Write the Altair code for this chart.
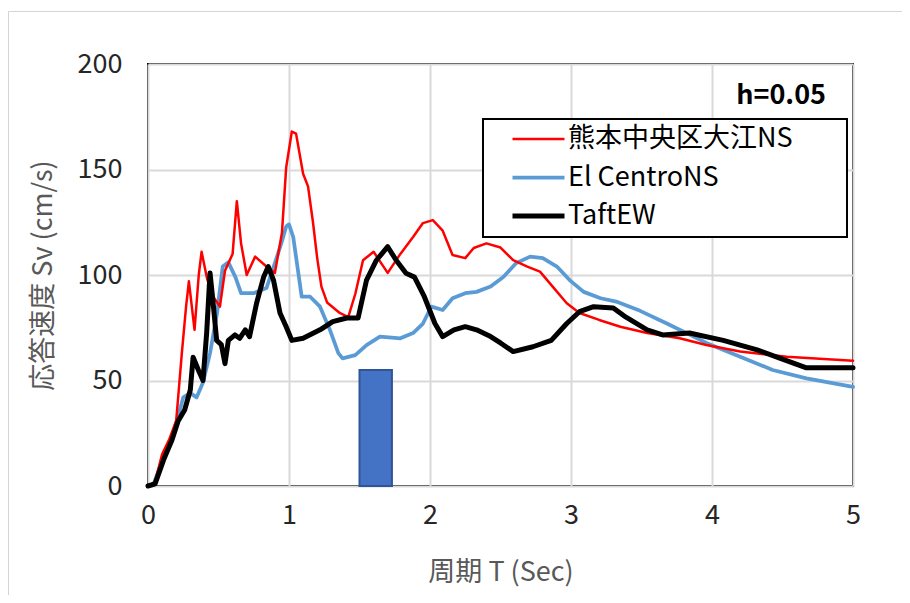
import altair as alt
import pandas as pd

FONT = "Noto Sans CJK JP"

series_names = ["熊本中央区大江NS", "El CentroNS", "TaftEW"]
series_colors = ["#FF0000", "#5B9BD5", "#000000"]
series_widths = [2.5, 5.0, 5.0]

x_ticks = [0, 1, 2, 3, 4, 5]
y_ticks = [0, 50, 100, 150, 200]

red_T = [0, 0.05, 0.1, 0.15, 0.2, 0.24, 0.27, 0.29, 0.33, 0.36, 0.38, 0.42, 0.46, 0.51, 0.546,
         0.6, 0.63, 0.66, 0.7, 0.76, 0.84, 0.9, 0.95, 0.98, 1.02, 1.05, 1.1, 1.135, 1.17, 1.2,
         1.23, 1.27, 1.36, 1.42, 1.47, 1.525, 1.6, 1.65, 1.7, 1.79, 1.88, 1.95, 2.02, 2.09, 2.16,
         2.25, 2.31, 2.4, 2.5, 2.59, 2.69, 2.78, 2.87, 2.97, 3.06, 3.2, 3.35, 3.54, 3.77, 3.96,
         4.2, 4.53, 5.0]
red_V = [0, 2, 15, 22, 31, 63, 85, 97, 74, 100, 111, 98, 90, 85, 102,
         110, 135, 115, 100, 108.7, 104, 101, 120, 151, 168, 167, 148, 142, 125, 108,
         94.5, 87, 82, 80, 91, 107, 111, 106, 101, 110, 118, 124.6, 126, 121, 109.5,
         108, 112.8, 115, 113, 107, 104, 101.6, 94.5, 86.6, 82, 78.7, 75.5, 72.5, 70, 66.8,
         63.7, 61.3, 59.4]

blue_T = [0, 0.04, 0.085, 0.13, 0.18, 0.25, 0.3, 0.345, 0.39, 0.44, 0.49, 0.53, 0.57, 0.62,
          0.66, 0.75, 0.84, 0.9, 0.95, 0.98, 1.0, 1.03, 1.09, 1.15, 1.22, 1.29, 1.35, 1.38,
          1.47, 1.55, 1.645, 1.79, 1.88, 1.95, 2.01, 2.09, 2.16, 2.25, 2.33, 2.43, 2.52, 2.61,
          2.71, 2.8, 2.9, 2.99, 3.09, 3.21, 3.32, 3.49, 3.68, 3.96, 4.2, 4.43, 4.67, 5.0]
blue_V = [0, 1, 9, 17, 25, 42, 44, 42, 49, 63, 82, 104, 106, 99,
          91.4, 91.4, 93.8, 105.6, 116, 123, 124, 118, 89.7, 89.7, 85, 74, 63, 60.5,
          62, 66.8, 70.8, 70, 72.5, 77, 85, 83.4, 89, 91.4, 92, 94.5, 99, 105.6,
          108.7, 108, 104, 97.6, 92, 89, 87.4, 83, 77, 67.8, 61.3, 55, 51, 47]

black_T = [0, 0.05, 0.11, 0.17, 0.215, 0.26, 0.3, 0.32, 0.357, 0.39, 0.416, 0.44, 0.46, 0.487,
           0.52, 0.546, 0.57, 0.617, 0.65, 0.69, 0.72, 0.77, 0.82, 0.853, 0.89, 0.936, 0.98,
           1.02, 1.1, 1.22, 1.31, 1.41, 1.49, 1.55, 1.62, 1.7, 1.76, 1.83, 1.89, 1.96, 2.035,
           2.09, 2.17, 2.25, 2.33, 2.43, 2.5, 2.59, 2.73, 2.86, 2.97, 3.06, 3.16, 3.3, 3.39,
           3.54, 3.65, 3.84, 4.08, 4.32, 4.48, 4.67, 5.0]
black_V = [0, 1, 12.3, 21.8, 31, 36, 45.5, 61, 55, 50, 72.5, 101, 88, 69,
           67, 58, 69, 71.6, 70, 74, 70.8, 86.6, 99, 104, 97.6, 82, 75.5,
           69, 70, 74, 77.9, 79.6, 79.6, 97.6, 107, 113.4, 107, 100.8, 99, 89.7, 77,
           70.8, 74, 75.5, 74, 70.8, 67.8, 63.7, 66, 69, 77, 82.6, 85, 84.4, 80,
           74, 71.6, 72.5, 69, 64.5, 60.6, 56, 56]

bar_T_start = [1.5]
bar_T_end = [1.73]
bar_V = [55]

annotation = "h=0.05"

rows = []
for name, Ts, Vs in zip(series_names, [red_T, blue_T, black_T], [red_V, blue_V, black_V]):
    for t, v in zip(Ts, Vs):
        rows.append({"series": name, "T": t, "Sv": v})
df = pd.DataFrame(rows)

bar_df = pd.DataFrame({"t0": bar_T_start, "t1": bar_T_end, "v0": [0] * len(bar_V), "v1": bar_V})

x_scale = alt.Scale(domain=[0, 5], nice=False)
y_scale = alt.Scale(domain=[0, 200], nice=False)

x_axis = alt.Axis(values=x_ticks, format="d", title="周期 T (Sec)", ticks=False, domain=False,
                  labelPadding=16, labelFlush=False, titleY=86, titleBaseline="middle",
                  grid=True)
y_axis = alt.Axis(values=y_ticks, format="d", title="応答速度 Sv (cm/s)", ticks=False, domain=False,
                  labelPadding=26, labelFlush=False, titleX=-105, titleY=211, titleAngle=-90,
                  titleBaseline="middle", titleAlign="center", grid=True)

legend_spec = dict(title=None, orient="none", legendX=362, legendY=61, labelLimit=500,
                   clipHeight=28)
color_enc = alt.Color("series:N", scale=alt.Scale(domain=series_names, range=series_colors),
                      legend=alt.Legend(**legend_spec))
width_enc = alt.StrokeWidth("series:N", scale=alt.Scale(domain=series_names, range=series_widths),
                            legend=alt.Legend(**legend_spec))

# outer frame
frame_left = alt.Chart(pd.DataFrame({"a": [0]})).mark_rule(color="#d4d4d4", strokeWidth=1).encode(
    x=alt.value(-139.5), y=alt.value(-52.5), y2=alt.value(540))
frame_top = alt.Chart(pd.DataFrame({"a": [0]})).mark_rule(color="#d4d4d4", strokeWidth=1).encode(
    x=alt.value(-139.5), x2=alt.value(770), y=alt.value(-52.5))

base_axes = alt.Chart(df).mark_line(opacity=0).encode(
    x=alt.X("T:Q", scale=x_scale, axis=x_axis),
    y=alt.Y("Sv:Q", scale=y_scale, axis=y_axis),
)

legend_box = alt.Chart(pd.DataFrame({"a": [0]})).mark_rect(
    fill="white", stroke="black", strokeWidth=2).encode(
    x=alt.value(335), x2=alt.value(699), y=alt.value(55), y2=alt.value(173))

bar = alt.Chart(bar_df).mark_rect(color="#4472C4", stroke="#2F5597", strokeWidth=2).encode(
    x=alt.X("t0:Q", scale=x_scale), x2="t1:Q",
    y=alt.Y("v0:Q", scale=y_scale), y2="v1:Q")

def series_layer(name):
    return alt.Chart(df).transform_filter(alt.datum.series == name).mark_line(
        strokeJoin="round", strokeCap="round").encode(
        x=alt.X("T:Q", scale=x_scale),
        y=alt.Y("Sv:Q", scale=y_scale),
        color=color_enc,
        strokeWidth=width_enc,
        order="T:Q",
    )

text = alt.Chart(pd.DataFrame({"label": [annotation]})).mark_text(
    align="right", baseline="middle", font=FONT, fontSize=27, fontWeight="bold", color="#000000"
).encode(x=alt.value(678), y=alt.value(32), text="label:N")

chart = alt.layer(
    frame_left, frame_top, base_axes, legend_box, bar,
    series_layer(series_names[1]), series_layer(series_names[0]), series_layer(series_names[2]),
    text,
).properties(
    width=705, height=422,
    autosize=alt.AutoSizeParams(type="none"),
    padding={"left": 140, "top": 56, "right": 49, "bottom": 109},
).configure(
    font=FONT,
).configure_view(
    stroke="black", strokeWidth=2,
).configure_axis(
    gridColor="#d9d9d9", gridWidth=2,
    labelFont=FONT, labelFontSize=27, labelColor="#262626",
    titleFont=FONT, titleFontSize=27, titleColor="#595959", titleFontWeight="normal",
).configure_legend(
    symbolType="stroke", symbolSize=2704, labelFont=FONT, labelFontSize=27,
    labelColor="#000000", padding=0, rowPadding=10.5, labelOffset=1, symbolOffset=0,
)

chart.save("out.html", embed_options={"renderer": "svg", "actions": False})
